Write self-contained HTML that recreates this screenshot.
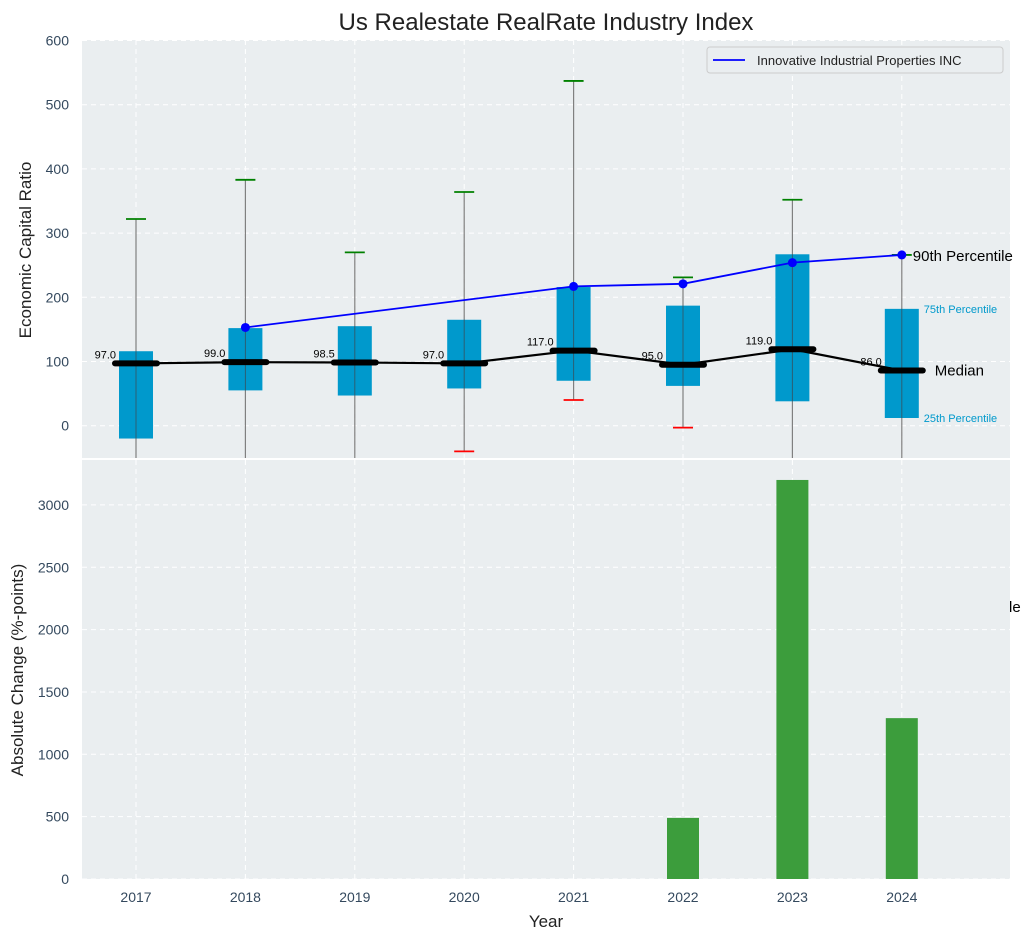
<!DOCTYPE html>
<html><head><meta charset="utf-8"><style>
body{margin:0;background:#fff;font-family:"Liberation Sans",sans-serif}
svg text{font-family:"Liberation Sans",sans-serif}
</style></head><body>
<svg id="c" width="1034" height="940" xmlns="http://www.w3.org/2000/svg"></svg>
<script>
const years=[2017,2018,2019,2020,2021,2022,2023,2024];
const q1=[-20,55,47,58,70,62,38,12];
const q3=[116,152,155,165,216,187,267,182];
const medians=[97,99,98.5,97,117,95,119,86];
const whiskTop=[322,383,270,364,537,231,352,266];
const whiskBot=[null,null,null,-40,40,-3,null,null];
const lineYears=[2018,2021,2022,2023,2024];
const lineVals=[153,217,221,254,266];
const barYears=[2022,2023,2024];
const barVals=[490,3200,1290];
const topTicks=[0,100,200,300,400,500,600];
const botTicks=[0,500,1000,1500,2000,2500,3000];

const NS="http://www.w3.org/2000/svg";
const svg=document.getElementById('c');
function el(t,a,p){const e=document.createElementNS(NS,t);for(const k in a)e.setAttribute(k,a[k]);(p||svg).appendChild(e);return e;}
const L=82,R=1010,T1=40,B1=458,T2=460,B2=879;
const x=v=>136+(v-2017)*109.4;
const y1=v=>425.7-v*0.642;
const y2=v=>879-v*0.1247;
const clip=v=>Math.max(T1,Math.min(B1,v));

let r=el('rect',{x:L,y:T1,width:R-L,height:B1-T1,fill:'#eaeef0'});

r=el('rect',{x:L,y:T2,width:R-L,height:B2-T2,fill:'#eaeef0'});


// grids & ticks
topTicks.forEach(t=>{const yy=y1(t);
 el('line',{x1:L,x2:R,y1:yy,y2:yy,stroke:'#fff','stroke-dasharray':'5,4','stroke-width':1});
 const tx=el('text',{x:L-13,y:yy+5,'text-anchor':'end','font-size':14,fill:'#34495e'});tx.textContent=t;
 });
botTicks.forEach(t=>{const yy=y2(t);
 el('line',{x1:L,x2:R,y1:yy,y2:yy,stroke:'#fff','stroke-dasharray':'5,4','stroke-width':1});
 const tx=el('text',{x:L-13,y:yy+5,'text-anchor':'end','font-size':14,fill:'#34495e'});tx.textContent=t;
 });
years.forEach(yr=>{const xx=x(yr);
 el('line',{x1:xx,x2:xx,y1:T1,y2:B1,stroke:'#fff','stroke-dasharray':'5,4'});
 el('line',{x1:xx,x2:xx,y1:T2,y2:B2,stroke:'#fff','stroke-dasharray':'5,4'});
 const tx=el('text',{x:xx,y:902,'text-anchor':'middle','font-size':14,fill:'#34495e'});tx.textContent=yr;
 });

// boxes
years.forEach((yr,i)=>{const xx=x(yr);
 const w=el('line',{x1:xx,x2:xx,y1:clip(y1(whiskTop[i])),y2:whiskBot[i]==null?B1:y1(whiskBot[i]),stroke:'#808080','stroke-width':1.2});
 
 const b=el('rect',{x:xx-17,y:y1(q3[i]),width:34,height:y1(q1[i])-y1(q3[i]),fill:'#0099cc'});
 
 el('line',{x1:xx,x2:xx,y1:y1(q3[i]),y2:Math.min(B1,y1(q1[i])),stroke:'#2b5f73','stroke-width':1});
 const c=el('line',{x1:xx-10,x2:xx+10,y1:y1(whiskTop[i]),y2:y1(whiskTop[i]),stroke:'green','stroke-width':1.8});
 
 if(whiskBot[i]!=null){const c2=el('line',{x1:xx-10,x2:xx+10,y1:y1(whiskBot[i]),y2:y1(whiskBot[i]),stroke:'red','stroke-width':1.8});
 }
});
// median line
const mp=el('polyline',{points:years.map((yr,i)=>x(yr)+','+y1(medians[i])).join(' '),fill:'none',stroke:'#000','stroke-width':2.2});

years.forEach((yr,i)=>{const xx=x(yr),yy=y1(medians[i]);
 const m=el('line',{x1:xx-21,x2:xx+21,y1:yy,y2:yy,stroke:'#000','stroke-width':6,'stroke-linecap':'round'});
 
 const t=el('text',{x:xx-20,y:yy-5,'text-anchor':'end','font-size':11,fill:'#000'});t.textContent=medians[i].toFixed(1);
 });
// blue line
const bl=el('polyline',{points:lineYears.map((yr,i)=>x(yr)+','+y1(lineVals[i])).join(' '),fill:'none',stroke:'blue','stroke-width':1.8});

lineYears.forEach((yr,i)=>{const p=el('circle',{cx:x(yr),cy:y1(lineVals[i]),r:4.5,fill:'blue'});
 });
// annotations
function txt(s,a,name){const t=el('text',a);t.textContent=s;return t;}
const lx=x(2024);
txt('90th Percentile',{x:lx+11,y:y1(266)+6,'font-size':15,fill:'#000'},'label-90th');
txt('75th Percentile',{x:lx+22,y:y1(182)+4,'font-size':11,fill:'#0099cc'},'label-75th');
txt('25th Percentile',{x:lx+22,y:y1(12)+4,'font-size':11,fill:'#0099cc'},'label-25th');
txt('Median',{x:lx+33,y:y1(86)+5,'font-size':15,fill:'#000'},'label-median');
txt('le',{x:1009,y:612,'font-size':15,fill:'#000'},'label-cut');
// bars
barYears.forEach((yr,i)=>{const b=el('rect',{x:x(yr)-16,y:y2(barVals[i]),width:32,height:B2-y2(barVals[i]),fill:'#3c9d3c'});
 });
// legend
const lg=el('g',{});
el('rect',{x:707,y:47,width:296,height:26,rx:3,fill:'#eaeef0',stroke:'#ccc'},lg);
el('line',{x1:713,x2:745,y1:60,y2:60,stroke:'blue','stroke-width':1.8},lg);
const lt=el('text',{x:757,y:65,'font-size':13,fill:'#222'},lg);lt.textContent='Innovative Industrial Properties INC';
// titles
txt('Us Realestate RealRate Industry Index',{x:546,y:30,'text-anchor':'middle','font-size':24,fill:'#222'},'chart-title');
txt('Year',{x:546,y:927,'text-anchor':'middle','font-size':17,fill:'#222'},'x-axis-title');
txt('Economic Capital Ratio',{x:0,y:0,transform:'translate(31,250) rotate(-90)','text-anchor':'middle','font-size':17,fill:'#222'},'y-axis-title-top');
txt('Absolute Change (%-points)',{x:0,y:0,transform:'translate(23,670) rotate(-90)','text-anchor':'middle','font-size':17,fill:'#222'},'y-axis-title-bottom');
</script></body></html>
